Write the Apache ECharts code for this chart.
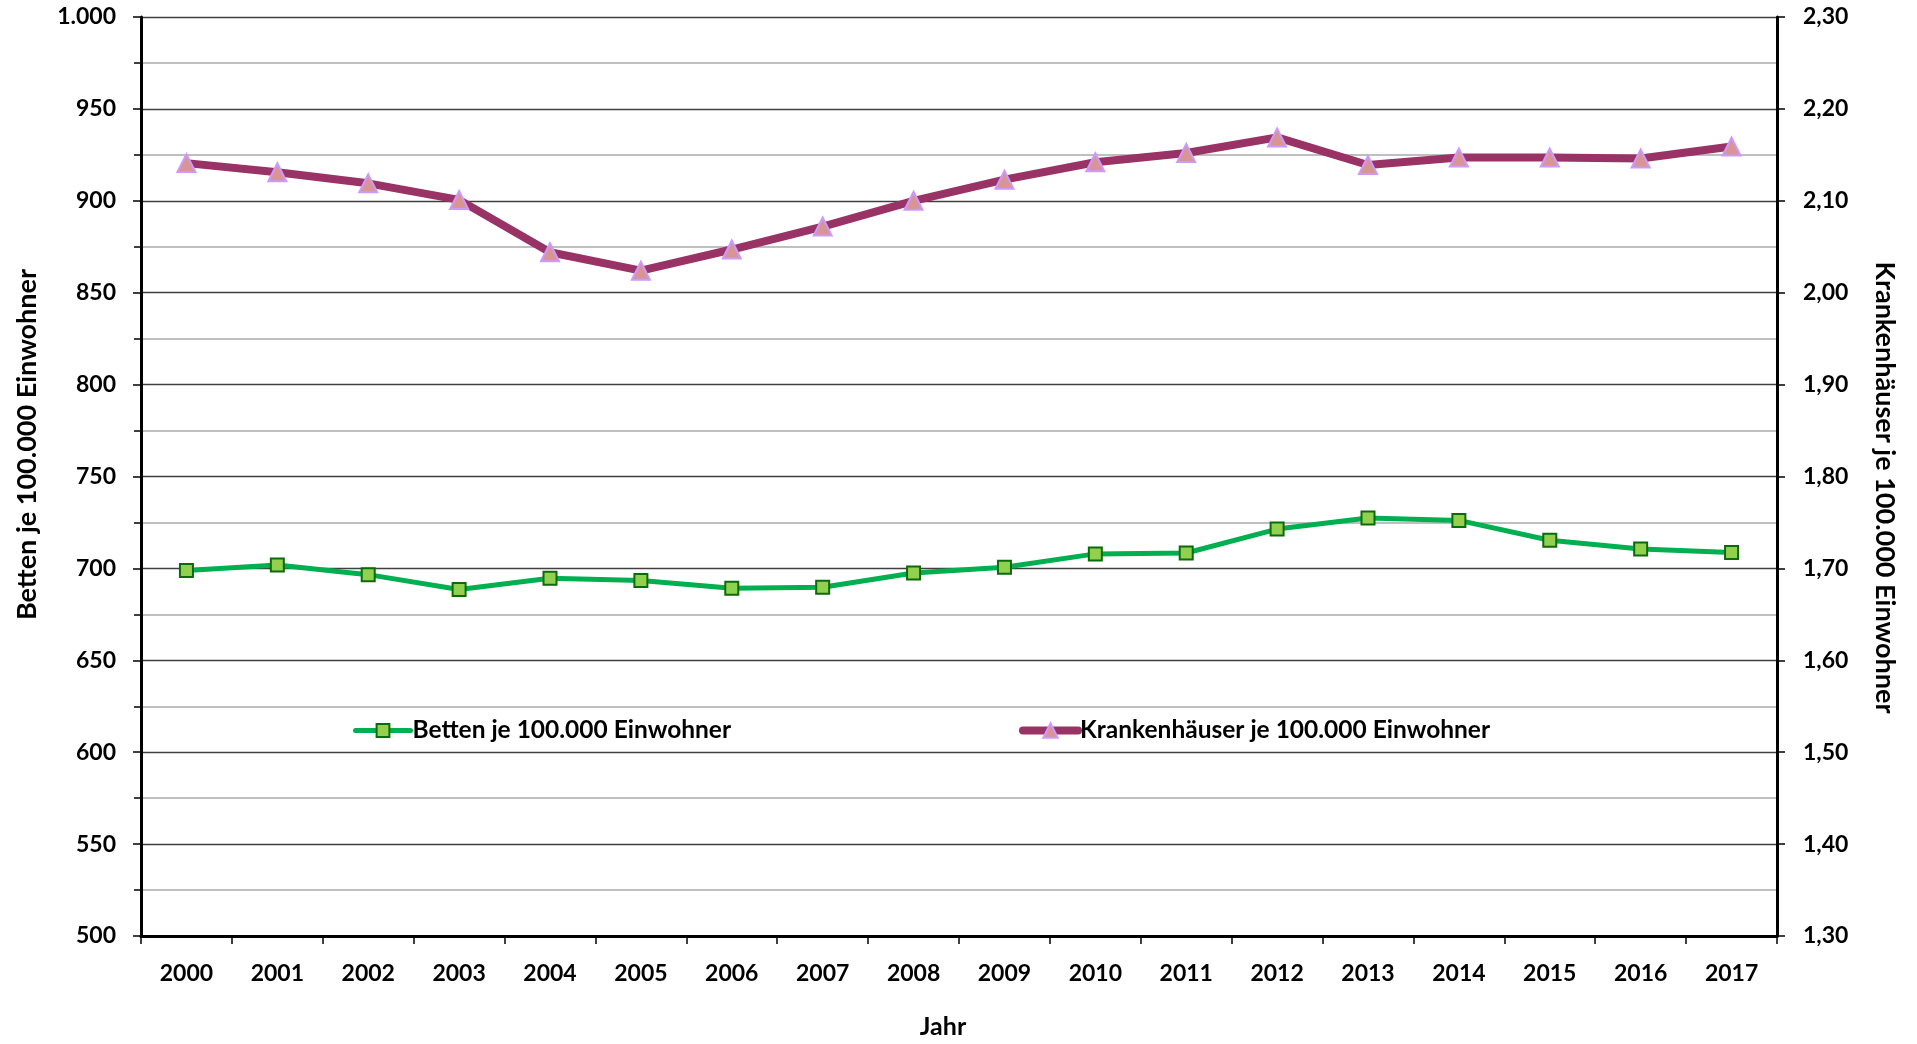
<!DOCTYPE html>
<html>
<head>
<meta charset="utf-8">
<script src="https://cdn.jsdelivr.net/npm/echarts@6/dist/echarts.min.js"></script>
<style>
html,body{margin:0;padding:0;background:#fff;}
#chart{width:1917px;height:1044px;}
</style>
</head>
<body>
<div id="chart"></div>
<script>
const years = ['2000','2001','2002','2003','2004','2005','2006','2007','2008','2009','2010','2011','2012','2013','2014','2015','2016','2017'];
const betten = [698.8, 701.8, 696.6, 688.5, 694.6, 693.4, 689.2, 689.7, 697.5, 700.6, 707.9, 708.4, 721.4, 727.4, 726.1, 715.3, 710.5, 708.6];
const krankenhaeuser = [2.141, 2.131, 2.119, 2.101, 2.044, 2.024, 2.047, 2.072, 2.100, 2.123, 2.142, 2.152, 2.169, 2.139, 2.147, 2.147, 2.146, 2.159];
const nameBetten = 'Betten je 100.000 Einwohner';
const nameKH = 'Krankenhäuser je 100.000 Einwohner';

const FONT = 'Lato';
const chart = echarts.init(document.getElementById('chart'));
const labelStyle = {color:'#000', fontFamily:FONT, fontWeight:'bold', fontSize:23};
const legendText = {color:'#000', fontFamily:FONT, fontWeight:'bold', fontSize:24.5, padding:[0,0,0,-3]};

chart.setOption({
  backgroundColor:'#fff',
  animation:false,
  grid:{left:141, right:140, top:17, bottom:100},
  legend:[
    {data:[nameBetten], left:348, top:713, itemWidth:55, itemHeight:16, itemGap:0,
     lineStyle:{width:5, cap:'round'}, textStyle:legendText},
    {data:[nameKH], left:1014, top:713, itemWidth:55, itemHeight:18, itemGap:0,
     lineStyle:{width:8, cap:'round'}, textStyle:legendText}
  ],
  xAxis:{
    type:'category', data:years, boundaryGap:true,
    name:'Jahr', nameLocation:'middle', nameGap:78,
    nameTextStyle:{color:'#000', fontFamily:FONT, fontWeight:'bold', fontSize:25, padding:[0,32,0,0]},
    axisLine:{lineStyle:{color:'#000', width:3}},
    axisTick:{show:true, length:8, lineStyle:{color:'#000', width:1.5}},
    axisLabel:Object.assign({margin:26}, labelStyle),
    splitLine:{show:false}
  },
  yAxis:[
    {type:'value', min:500, max:1000, interval:50, position:'left',
     name:nameBetten, nameLocation:'middle', nameGap:100, nameRotate:90,
     nameTextStyle:{color:'#000', fontFamily:FONT, fontWeight:'bold', fontSize:27, padding:[0,0,0,64]},
     axisLine:{show:true, lineStyle:{color:'#000', width:3}},
     axisTick:{show:true, length:8, lineStyle:{color:'#000', width:1.5}},
     minorTick:{show:true, splitNumber:2, length:7, lineStyle:{color:'#000', width:1.5}},
     axisLabel:Object.assign({margin:25, formatter:function(v){return String(v).replace(/\B(?=(\d{3})+(?!\d))/g,'.');}}, labelStyle),
     splitLine:{show:true, lineStyle:{color:'#404040', width:1.3}},
     minorSplitLine:{show:true, lineStyle:{color:'#bfbfbf', width:2}}
    },
    {type:'value', min:1.3, max:2.3, interval:0.1, position:'right',
     name:nameKH, nameLocation:'middle', nameGap:94, nameRotate:-90,
     nameTextStyle:{color:'#000', fontFamily:FONT, fontWeight:'bold', fontSize:27, padding:[0,0,0,22]},
     axisLine:{show:true, lineStyle:{color:'#000', width:3}},
     axisTick:{show:true, length:8, lineStyle:{color:'#000', width:1.5}},
     axisLabel:Object.assign({margin:26, formatter:function(v){return v.toFixed(2).replace('.',',');}}, labelStyle),
     splitLine:{show:false}
    }
  ],
  series:[
    {name:nameBetten, type:'line', data:betten, yAxisIndex:0,
     symbol:'rect', symbolSize:13, z:3,
     lineStyle:{color:'#00b050', width:5},
     itemStyle:{color:'#92d050', borderColor:'#0b6b0b', borderWidth:2}
    },
    {name:nameKH, type:'line', data:krankenhaeuser, yAxisIndex:1,
     symbol:'triangle', symbolSize:18, z:3,
     lineStyle:{color:'#993366', width:8},
     itemStyle:{color:'#d99594', borderColor:'#cc99ff', borderWidth:2}
    }
  ]
});
</script>
</body>
</html>
